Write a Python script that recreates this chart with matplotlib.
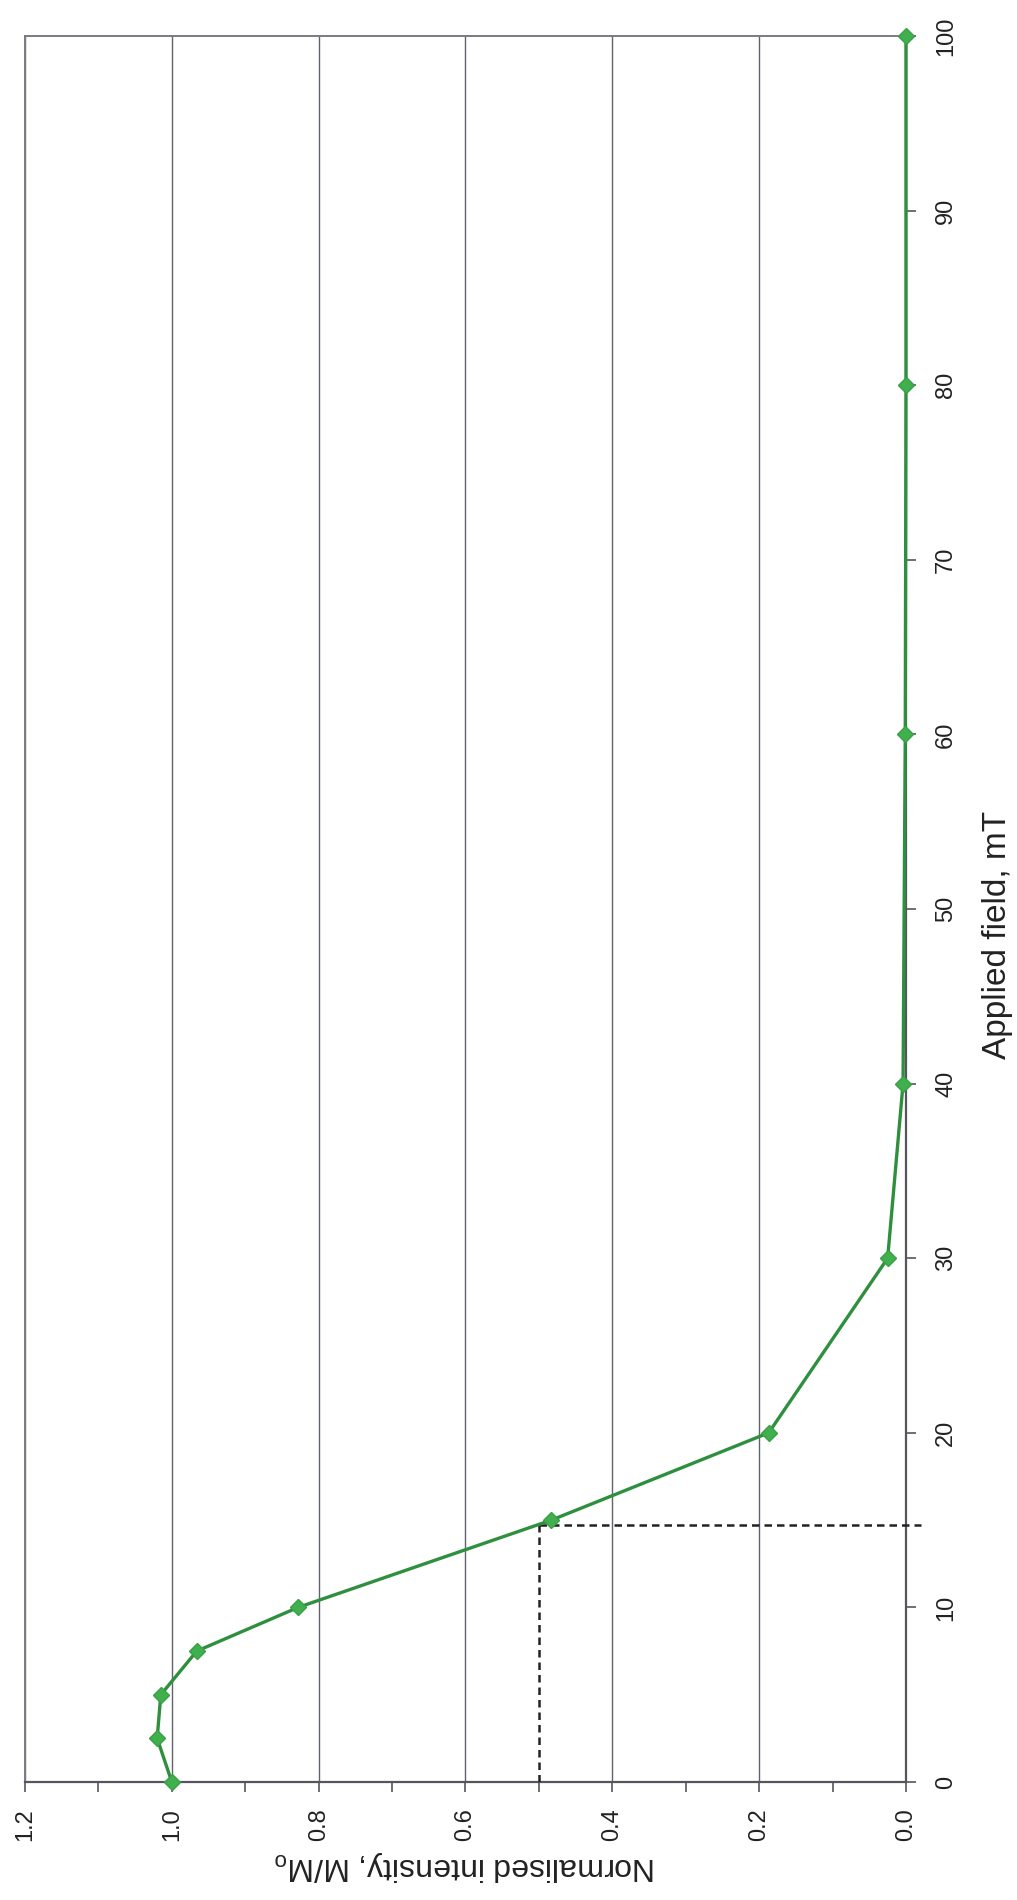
import numpy as np
import matplotlib
matplotlib.use("Agg")
import matplotlib.pyplot as plt

plt.rcParams['font.family'] = ['Liberation Sans', 'DejaVu Sans']
plt.rcParams['mathtext.default'] = 'regular'

# Data (applied field in mT, normalised intensity M/Mo)
field = [0, 2.5, 5, 7.5, 10, 15, 20, 30, 40, 60, 80, 100]
intensity = [1.0, 1.02, 1.015, 0.966, 0.828, 0.483, 0.187, 0.025, 0.004, 0.001, 0.0, 0.0]
half_field = 14.7
half_level = 0.5

field_ticks = list(range(0, 101, 10))
int_ticks = [0.0, 0.2, 0.4, 0.6, 0.8, 1.0, 1.2]
int_minor = [0.1, 0.3, 0.5, 0.7, 0.9, 1.1]

fig = plt.figure(figsize=(10.17, 19.0), dpi=100)
ax = fig.add_axes([25/1017, 118/1900, 881/1017, 1746/1900])

# rotated layout: intensity runs horizontally (reversed), field runs vertically
ax.set_xlim(1.2, 0.0)
ax.set_ylim(0, 100)

ax.set_xticks(int_ticks)
ax.set_xticks(int_minor, minor=True)
ax.set_xticklabels([f"{v:.1f}" for v in int_ticks], rotation=90)
ax.set_yticks(field_ticks)
ax.set_yticklabels([str(v) for v in field_ticks], rotation=90, va='center')

ax.yaxis.tick_right()
ax.tick_params(axis='x', which='both', direction='out', length=7, width=1.2,
               color='#555560', labelsize=17, pad=12)
ax.tick_params(axis='y', which='both', direction='out', length=7, width=1.2,
               color='#555560', labelsize=17, pad=14)
ax.tick_params(axis='y', left=False)

ax.grid(axis='x', which='major', color='#62626f', linewidth=1.0)
ax.set_axisbelow(True)

for side in ['left', 'top']:
    ax.spines[side].set_color('#7a7a86')
    ax.spines[side].set_linewidth(1.4)
for side in ['right', 'bottom']:
    ax.spines[side].set_color('#555560')
    ax.spines[side].set_linewidth(1.6)

# dashed guide lines at half intensity
ax.plot([half_level, half_level], [0, half_field], color='#222222', lw=1.8,
        dashes=(3, 2), zorder=3)
ax.plot([half_level, -0.02], [half_field, half_field], color='#222222', lw=1.8,
        dashes=(3, 2), clip_on=False, zorder=3)

ax.plot(intensity, field, color='#2e8f3e', lw=2.4, marker='D', ms=8.5,
        mfc='#40b04e', mec='#38a045', mew=1.0, zorder=4, clip_on=False)

fig.text(0.966, 0.508, 'Applied field, mT', rotation=90, ha='left',
         va='center', fontsize=24, color='#222222')
fig.text(465/1017, 34/1900, r'Normalised intensity, M/M$_\mathregular{o}$',
         rotation=180, ha='center', va='center', fontsize=23, color='#222222')

for lbl in ax.get_xticklabels() + ax.get_yticklabels():
    lbl.set_color('#222222')

fig.savefig('out.png', dpi=100)
